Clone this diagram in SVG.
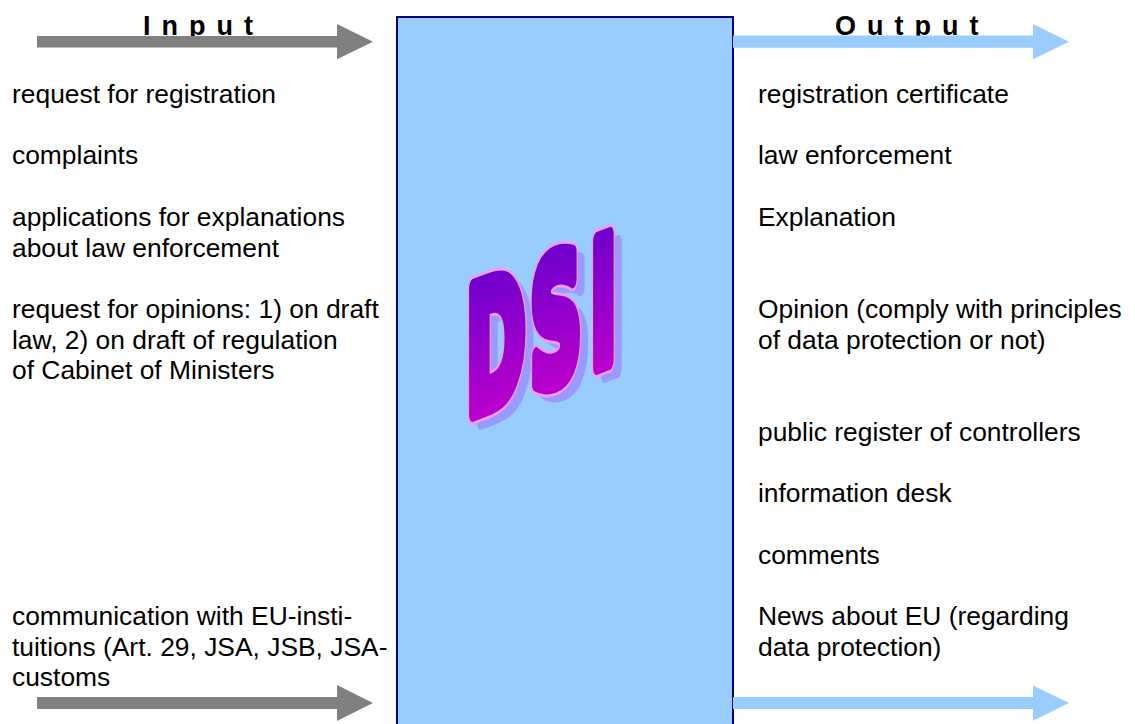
<svg xmlns="http://www.w3.org/2000/svg" width="1135" height="724" viewBox="0 0 1135 724">
<style>
.t{font-family:"Liberation Sans",Arial,sans-serif;font-size:26.4px;fill:#000}
.h{font-family:"Liberation Sans",Arial,sans-serif;font-size:27px;font-weight:bold;letter-spacing:11px;fill:#000}
.dsi{font-family:"DejaVu Sans","Liberation Sans",sans-serif;font-weight:bold;font-size:72px;stroke-linejoin:round}
.in{fill:#808080}
.out{fill:#99ccff}
</style>
<defs>
<linearGradient id="dsiGrad" x1="0" y1="0" x2="0" y2="1">
<stop offset="0" stop-color="#6200cc"/>
<stop offset="1" stop-color="#cc00cc"/>
</linearGradient>
</defs>
<rect x="0" y="0" width="1135" height="724" fill="#fff"/>
<g id="input-title"><text class="h" x="143" y="34.5">Input</text></g>
<g id="output-title"><text class="h" x="835" y="34.5">Output</text></g>
<g id="dsi-box">
<rect x="397" y="17" width="336" height="720" fill="#99ccff" stroke="#000080" stroke-width="2"/>
</g>
<g id="connectors">
<polygon class="in" points="37,36 337,36 337,24 373,41.7 337,59.3 337,47.5 37,47.5"/>
<polygon class="in" points="37,697 337,697 337,685 373,703 337,721 337,709 37,709"/>
<polygon class="out" points="733,35.5 1033,35.5 1033,24 1069,41.7 1033,59.3 1033,47.7 733,47.7"/>
<polygon class="out" points="733,697 1033,697 1033,685.5 1069,703 1033,720.7 1033,709 733,709"/>
</g>
<g id="dsi">
<g transform="translate(8,8)">
<text class="dsi" transform="matrix(1,-0.38,0,2.4,466,416)" fill="#9999ff" stroke="#9999ff" stroke-width="7" vector-effect="non-scaling-stroke"><tspan x="0" y="0">D</tspan><tspan x="64" y="0">S</tspan><tspan x="124" y="0">I</tspan></text>
</g>
<text class="dsi" transform="matrix(1,-0.38,0,2.4,466,416)" fill="#e9a0ff" stroke="#e9a0ff" stroke-width="9.5" vector-effect="non-scaling-stroke"><tspan x="0" y="0">D</tspan><tspan x="64" y="0">S</tspan><tspan x="124" y="0">I</tspan></text>
<text class="dsi" transform="matrix(1,-0.38,0,2.4,466,416)" fill="url(#dsiGrad)" stroke="url(#dsiGrad)" stroke-width="7" vector-effect="non-scaling-stroke"><tspan x="0" y="0">D</tspan><tspan x="64" y="0">S</tspan><tspan x="124" y="0">I</tspan></text>
</g>
<g id="input-items">
<text class="t" x="12" y="103">request for registration</text>
<text class="t" x="12" y="164.4">complaints</text>
<text class="t" x="12" y="225.8">applications for explanations</text>
<text class="t" x="12" y="256.5">about law enforcement</text>
<text class="t" x="12" y="317.9">request for opinions: 1) on draft</text>
<text class="t" x="12" y="348.6">law, 2) on draft of regulation</text>
<text class="t" x="12" y="379.3">of Cabinet of Ministers</text>
<text class="t" x="12" y="624.9">communication with EU-insti-</text>
<text class="t" x="12" y="655.6">tuitions (Art. 29, JSA, JSB, JSA-</text>
<text class="t" x="12" y="686.3">customs</text>
</g>
<g id="output-items">
<text class="t" x="758" y="103">registration certificate</text>
<text class="t" x="758" y="164.4">law enforcement</text>
<text class="t" x="758" y="225.8">Explanation</text>
<text class="t" x="758" y="317.9">Opinion (comply with principles</text>
<text class="t" x="758" y="348.6">of data protection or not)</text>
<text class="t" x="758" y="440.7">public register of controllers</text>
<text class="t" x="758" y="502.1">information desk</text>
<text class="t" x="758" y="563.5">comments</text>
<text class="t" x="758" y="624.9">News about EU (regarding</text>
<text class="t" x="758" y="655.6">data protection)</text>
</g>
</svg>
